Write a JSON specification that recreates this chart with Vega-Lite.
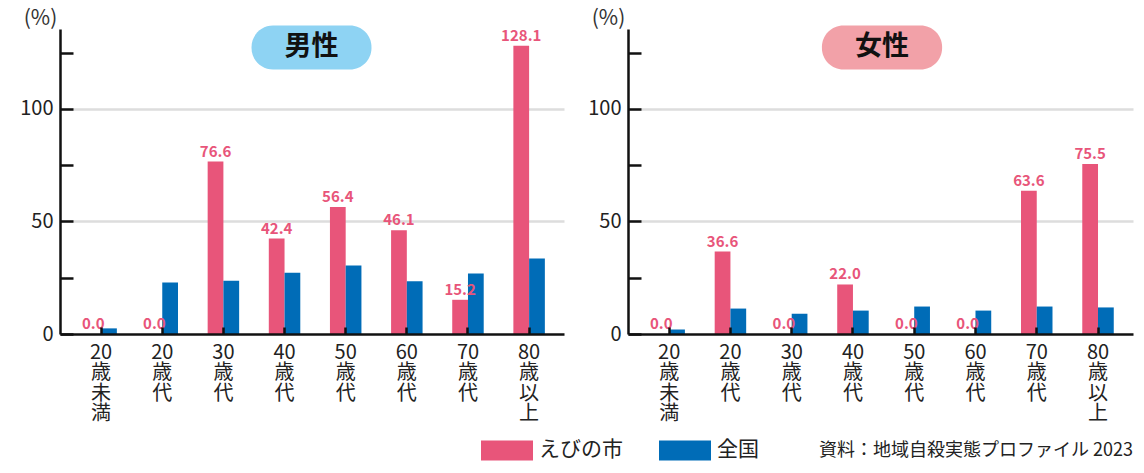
{
  "$schema": "https://vega.github.io/schema/vega-lite/v6.json",
  "padding": {"left": 19, "top": 7, "right": 8, "bottom": 0},
  "datasets": {
    "rates": [
      {"sex": "男性", "age": "20歳未満", "series": "えびの市", "value": 0.0},
      {"sex": "男性", "age": "20歳代", "series": "えびの市", "value": 0.0},
      {"sex": "男性", "age": "30歳代", "series": "えびの市", "value": 76.6},
      {"sex": "男性", "age": "40歳代", "series": "えびの市", "value": 42.4},
      {"sex": "男性", "age": "50歳代", "series": "えびの市", "value": 56.4},
      {"sex": "男性", "age": "60歳代", "series": "えびの市", "value": 46.1},
      {"sex": "男性", "age": "70歳代", "series": "えびの市", "value": 15.2},
      {"sex": "男性", "age": "80歳以上", "series": "えびの市", "value": 128.1},
      {"sex": "男性", "age": "20歳未満", "series": "全国", "value": 2.5},
      {"sex": "男性", "age": "20歳代", "series": "全国", "value": 22.9},
      {"sex": "男性", "age": "30歳代", "series": "全国", "value": 23.7},
      {"sex": "男性", "age": "40歳代", "series": "全国", "value": 27.2},
      {"sex": "男性", "age": "50歳代", "series": "全国", "value": 30.4},
      {"sex": "男性", "age": "60歳代", "series": "全国", "value": 23.4},
      {"sex": "男性", "age": "70歳代", "series": "全国", "value": 26.9},
      {"sex": "男性", "age": "80歳以上", "series": "全国", "value": 33.5},
      {"sex": "女性", "age": "20歳未満", "series": "えびの市", "value": 0.0},
      {"sex": "女性", "age": "20歳代", "series": "えびの市", "value": 36.6},
      {"sex": "女性", "age": "30歳代", "series": "えびの市", "value": 0.0},
      {"sex": "女性", "age": "40歳代", "series": "えびの市", "value": 22.0},
      {"sex": "女性", "age": "50歳代", "series": "えびの市", "value": 0.0},
      {"sex": "女性", "age": "60歳代", "series": "えびの市", "value": 0.0},
      {"sex": "女性", "age": "70歳代", "series": "えびの市", "value": 63.6},
      {"sex": "女性", "age": "80歳以上", "series": "えびの市", "value": 75.5},
      {"sex": "女性", "age": "20歳未満", "series": "全国", "value": 2.0},
      {"sex": "女性", "age": "20歳代", "series": "全国", "value": 11.3},
      {"sex": "女性", "age": "30歳代", "series": "全国", "value": 9.0},
      {"sex": "女性", "age": "40歳代", "series": "全国", "value": 10.4},
      {"sex": "女性", "age": "50歳代", "series": "全国", "value": 12.2},
      {"sex": "女性", "age": "60歳代", "series": "全国", "value": 10.4},
      {"sex": "女性", "age": "70歳代", "series": "全国", "value": 12.2},
      {"sex": "女性", "age": "80歳以上", "series": "全国", "value": 11.8}
    ]
  },
  "title": {
    "text": "資料：地域自殺実態プロファイル 2023",
    "orient": "bottom",
    "anchor": "end",
    "fontSize": 18,
    "fontWeight": "normal",
    "color": "#222222",
    "offset": -19
  },
  "spacing": 23,
  "hconcat": [
    {
      "width": 504,
      "height": 305,
      "resolve": {"scale": {"x": "independent"}},
      "layer": [
        {
          "data": {"values": [{"label": "男性"}]},
          "layer": [
            {
              "mark": {"type": "rect", "cornerRadius": 21.5, "color": "#8ED3F3"},
              "encoding": {
                "x": {"datum": 0.38, "type": "quantitative", "scale": {"domain": [0, 1]}, "axis": null},
                "x2": {"datum": 0.618},
                "y": {"datum": 137, "type": "quantitative", "title": "(%)"},
                "y2": {"datum": 117.5}
              }
            },
            {
              "mark": {"type": "text", "fontSize": 27, "fontWeight": "bold", "color": "#111111", "baseline": "middle", "align": "center"},
              "encoding": {
                "x": {"datum": 0.499, "type": "quantitative", "scale": {"domain": [0, 1]}, "axis": null},
                "y": {"datum": 127.3, "type": "quantitative", "title": "(%)"},
                "text": {"field": "label"}
              }
            }
          ]
        },
        {
          "data": {"name": "rates"},
          "transform": [{"filter": "datum.sex === '男性'"}],
          "layer": [
            {
              "mark": {"type": "bar"},
              "encoding": {
                "x": {
                  "field": "age", "type": "nominal",
                  "sort": ["20歳未満", "20歳代", "30歳代", "40歳代", "50歳代", "60歳代", "70歳代", "80歳以上"],
                  "scale": {"paddingInner": 0.485, "paddingOuter": 0.364, "align": 0.57},
                  "title": null,
                  "axis": {
                    "labelAngle": 0,
                    "labelExpr": "length(datum.label) > 4 ? [substring(datum.label,0,2), substring(datum.label,2,3), substring(datum.label,3,4), substring(datum.label,4,5)] : [substring(datum.label,0,2), substring(datum.label,2,3), substring(datum.label,3,4)]",
                    "labelFontSize": 20,
                    "labelLineHeight": 20.5,
                    "labelBaseline": "top",
                    "labelPadding": 15,
                    "labelColor": "#222222",
                    "tickSize": -7,
                    "tickWidth": 2.5,
                    "tickColor": "#111111",
                    "domainColor": "#111111",
                    "domainWidth": 2.5,
                    "grid": false,
                    "zindex": 1
                  }
                },
                "xOffset": {"field": "series", "type": "nominal", "scale": {"domain": ["えびの市", "全国"], "paddingInner": 0}},
                "y": {
                  "field": "value", "type": "quantitative",
                  "scale": {"domain": [0, 135.5], "nice": false},
                  "title": "(%)",
                  "axis": {
                    "values": [0, 25, 50, 75, 100, 125],
                    "labelExpr": "datum.value % 50 === 0 ? datum.label : ''",
                    "labelFontSize": 20,
                    "labelColor": "#222222",
                    "labelPadding": 20,
                    "tickSize": -13,
                    "tickWidth": 2.5,
                    "tickColor": "#111111",
                    "domainColor": "#111111",
                    "domainWidth": 2.5,
                    "grid": true,
                    "gridColor": "#DDDDDD",
                    "gridWidth": 2.5,
                    "gridOpacity": {"condition": {"test": "datum.value === 50 || datum.value === 100", "value": 1}, "value": 0},
                    "titleAngle": 0,
                    "titleAlign": "center",
                    "titleBaseline": "alphabetic",
                    "titleX": -20,
                    "titleY": -5,
                    "titleFontSize": 21,
                    "titleFontWeight": "normal",
                    "titleColor": "#333333",
                    "zindex": 0
                  }
                },
                "color": {
                  "field": "series", "type": "nominal",
                  "scale": {"domain": ["えびの市", "全国"], "range": ["#E8557A", "#006CB7"]},
                  "legend": {
                    "orient": "none", "legendX": 421, "legendY": 395,
                    "direction": "horizontal", "title": null,
                    "symbolType": "M-1,-0.385H1V0.385H-1Z", "symbolSize": 2704,
                    "symbolStrokeWidth": 0, "symbolOpacity": 1,
                    "labelFontSize": 21, "labelColor": "#222222",
                    "columnPadding": 36, "labelOffset": 6
                  }
                }
              }
            },
            {
              "transform": [{"filter": "datum.series === 'えびの市' && datum.value === 0"}],
              "mark": {"type": "bar", "yOffset": -3.5, "color": "#E8557A"},
              "encoding": {
                "x": {"field": "age", "type": "nominal", "sort": ["20歳未満", "20歳代", "30歳代", "40歳代", "50歳代", "60歳代", "70歳代", "80歳以上"]},
                "xOffset": {"field": "series", "type": "nominal"},
                "y": {"field": "value", "type": "quantitative", "title": "(%)"}
              }
            },
            {
              "transform": [{"filter": "datum.series === 'えびの市'"}],
              "mark": {"type": "text", "fontSize": 15, "fontWeight": "bold", "color": "#E8557A", "baseline": "alphabetic", "dy": -5},
              "encoding": {
                "x": {"field": "age", "type": "nominal", "sort": ["20歳未満", "20歳代", "30歳代", "40歳代", "50歳代", "60歳代", "70歳代", "80歳以上"]},
                "xOffset": {"field": "series", "type": "nominal"},
                "y": {"field": "value", "type": "quantitative", "title": "(%)"},
                "text": {"field": "value", "type": "quantitative", "format": ".1f"}
              }
            }
          ]
        }
      ]
    },
    {
      "width": 505,
      "height": 305,
      "resolve": {"scale": {"x": "independent"}},
      "layer": [
        {
          "data": {"values": [{"label": "女性"}]},
          "layer": [
            {
              "mark": {"type": "rect", "cornerRadius": 21.5, "color": "#F2A1A8"},
              "encoding": {
                "x": {"datum": 0.384, "type": "quantitative", "scale": {"domain": [0, 1]}, "axis": null},
                "x2": {"datum": 0.622},
                "y": {"datum": 137, "type": "quantitative", "title": "(%)"},
                "y2": {"datum": 117.5}
              }
            },
            {
              "mark": {"type": "text", "fontSize": 27, "fontWeight": "bold", "color": "#111111", "baseline": "middle", "align": "center"},
              "encoding": {
                "x": {"datum": 0.503, "type": "quantitative", "scale": {"domain": [0, 1]}, "axis": null},
                "y": {"datum": 127.3, "type": "quantitative", "title": "(%)"},
                "text": {"field": "label"}
              }
            }
          ]
        },
        {
          "data": {"name": "rates"},
          "transform": [{"filter": "datum.sex === '女性'"}],
          "layer": [
            {
              "mark": {"type": "bar"},
              "encoding": {
                "x": {
                  "field": "age", "type": "nominal",
                  "sort": ["20歳未満", "20歳代", "30歳代", "40歳代", "50歳代", "60歳代", "70歳代", "80歳以上"],
                  "scale": {"paddingInner": 0.485, "paddingOuter": 0.364, "align": 0.57},
                  "title": null,
                  "axis": {
                    "labelAngle": 0,
                    "labelExpr": "length(datum.label) > 4 ? [substring(datum.label,0,2), substring(datum.label,2,3), substring(datum.label,3,4), substring(datum.label,4,5)] : [substring(datum.label,0,2), substring(datum.label,2,3), substring(datum.label,3,4)]",
                    "labelFontSize": 20,
                    "labelLineHeight": 20.5,
                    "labelBaseline": "top",
                    "labelPadding": 15,
                    "labelColor": "#222222",
                    "tickSize": -7,
                    "tickWidth": 2.5,
                    "tickColor": "#111111",
                    "domainColor": "#111111",
                    "domainWidth": 2.5,
                    "grid": false,
                    "zindex": 1
                  }
                },
                "xOffset": {"field": "series", "type": "nominal", "scale": {"domain": ["えびの市", "全国"], "paddingInner": 0}},
                "y": {
                  "field": "value", "type": "quantitative",
                  "scale": {"domain": [0, 135.5], "nice": false},
                  "title": "(%)",
                  "axis": {
                    "values": [0, 25, 50, 75, 100, 125],
                    "labelExpr": "datum.value % 50 === 0 ? datum.label : ''",
                    "labelFontSize": 20,
                    "labelColor": "#222222",
                    "labelPadding": 20,
                    "tickSize": -13,
                    "tickWidth": 2.5,
                    "tickColor": "#111111",
                    "domainColor": "#111111",
                    "domainWidth": 2.5,
                    "grid": true,
                    "gridColor": "#DDDDDD",
                    "gridWidth": 2.5,
                    "gridOpacity": {"condition": {"test": "datum.value === 50 || datum.value === 100", "value": 1}, "value": 0},
                    "titleAngle": 0,
                    "titleAlign": "center",
                    "titleBaseline": "alphabetic",
                    "titleX": -20,
                    "titleY": -5,
                    "titleFontSize": 21,
                    "titleFontWeight": "normal",
                    "titleColor": "#333333",
                    "zindex": 0
                  }
                },
                "color": {
                  "field": "series", "type": "nominal",
                  "scale": {"domain": ["えびの市", "全国"], "range": ["#E8557A", "#006CB7"]},
                  "legend": {
                    "orient": "none", "legendX": 421, "legendY": 395,
                    "direction": "horizontal", "title": null,
                    "symbolType": "M-1,-0.385H1V0.385H-1Z", "symbolSize": 2704,
                    "symbolStrokeWidth": 0, "symbolOpacity": 1,
                    "labelFontSize": 21, "labelColor": "#222222",
                    "columnPadding": 36, "labelOffset": 6
                  }
                }
              }
            },
            {
              "transform": [{"filter": "datum.series === 'えびの市' && datum.value === 0"}],
              "mark": {"type": "bar", "yOffset": -3.5, "color": "#E8557A"},
              "encoding": {
                "x": {"field": "age", "type": "nominal", "sort": ["20歳未満", "20歳代", "30歳代", "40歳代", "50歳代", "60歳代", "70歳代", "80歳以上"]},
                "xOffset": {"field": "series", "type": "nominal"},
                "y": {"field": "value", "type": "quantitative", "title": "(%)"}
              }
            },
            {
              "transform": [{"filter": "datum.series === 'えびの市'"}],
              "mark": {"type": "text", "fontSize": 15, "fontWeight": "bold", "color": "#E8557A", "baseline": "alphabetic", "dy": -5},
              "encoding": {
                "x": {"field": "age", "type": "nominal", "sort": ["20歳未満", "20歳代", "30歳代", "40歳代", "50歳代", "60歳代", "70歳代", "80歳以上"]},
                "xOffset": {"field": "series", "type": "nominal"},
                "y": {"field": "value", "type": "quantitative", "title": "(%)"},
                "text": {"field": "value", "type": "quantitative", "format": ".1f"}
              }
            }
          ]
        }
      ]
    }
  ],
  "config": {
    "view": {"stroke": null},
    "font": "Noto Sans CJK JP",
    "axis": {"labelFont": "Noto Sans CJK JP", "titleFont": "Noto Sans CJK JP"},
    "legend": {"labelFont": "Noto Sans CJK JP"},
    "title": {"font": "Noto Sans CJK JP"},
    "text": {"font": "Noto Sans CJK JP"}
  }
}
